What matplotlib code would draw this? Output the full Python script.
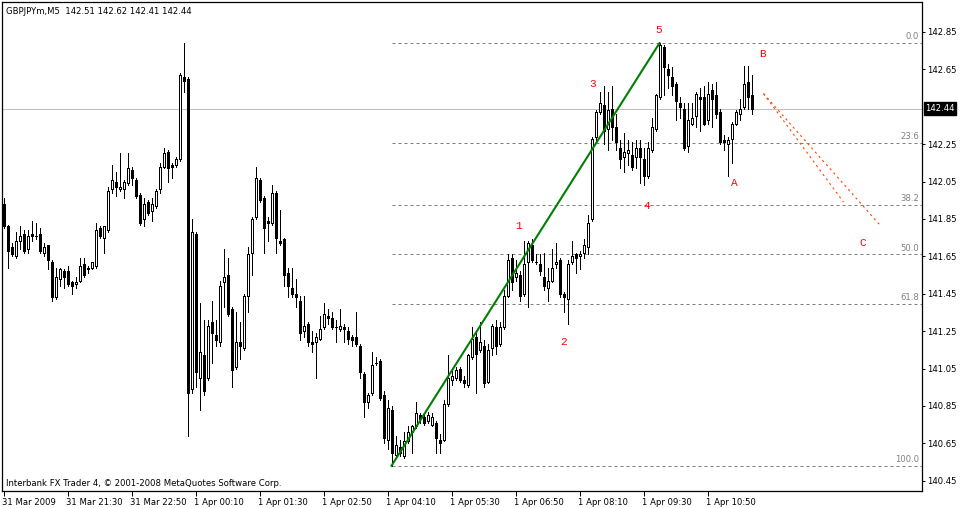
import matplotlib
matplotlib.use("Agg")
import matplotlib.pyplot as plt
import matplotlib.transforms as mtransforms

title = "GBPJPYm,M5  142.51 142.62 142.41 142.44"
footer = "Interbank FX Trader 4, \u00a9 2001-2008 MetaQuotes Software Corp."

# M5 bars, oldest first (31 Mar 20:10 .. 1 Apr 11:45)
opens = [
    141.93, 141.81, 141.70, 141.65, 141.73, 141.77, 141.69, 141.77, 141.76, 141.77,
    141.67, 141.71, 141.62, 141.43, 141.53, 141.57, 141.57, 141.51, 141.50, 141.52,
    141.61, 141.59, 141.59, 141.60, 141.80, 141.75, 141.79, 142.01, 142.05, 142.01,
    142.01, 142.04, 142.11, 142.06, 141.98, 141.85, 141.94, 141.89, 141.92, 142.01,
    142.13, 142.21, 142.14, 142.14, 142.17, 142.61, 142.60, 140.94, 141.77, 141.00,
    141.12, 141.00, 141.30, 141.23, 141.19, 141.51, 141.55, 141.37, 141.06, 141.19,
    141.16, 141.44, 141.67, 141.86, 142.06, 141.96, 141.84, 141.83, 141.99, 141.73,
    141.74, 141.56, 141.48, 141.45, 141.41, 141.25, 141.29, 141.19, 141.19, 141.21,
    141.27, 141.33, 141.32, 141.27, 141.26, 141.27, 141.25, 141.22, 141.22, 141.17,
    141.02, 140.87, 140.92, 141.08, 141.09, 140.91, 140.67, 140.83, 140.59, 140.63,
    140.58, 140.66, 140.71, 140.74, 140.80, 140.79, 140.77, 140.75, 140.76, 140.67,
    140.67, 140.86, 140.99, 141.00, 141.05, 140.99, 140.96, 141.11, 141.22, 141.15,
    141.17, 140.98, 141.16, 141.27, 141.18, 141.27, 141.44, 141.64, 141.54, 141.55,
    141.45, 141.62, 141.71, 141.62, 141.61, 141.54, 141.48, 141.52, 141.61, 141.63,
    141.45, 141.42, 141.62, 141.66, 141.65, 141.67, 141.70, 141.85, 142.29, 142.42,
    142.46, 142.33, 142.44, 142.34, 142.23, 142.18, 142.20, 142.19, 142.18, 142.23,
    142.17, 142.08, 142.22, 142.33, 142.50, 142.77, 142.65, 142.61, 142.57, 142.47,
    142.44, 142.24, 142.36, 142.40, 142.50, 142.50, 142.38, 142.54, 142.51, 142.42,
    142.27, 142.25, 142.28, 142.36, 142.41, 142.45, 142.58, 142.51,
]
highs = [
    141.96, 141.82, 141.72, 141.78, 141.81, 141.79, 141.79, 141.84, 141.83, 141.80,
    141.72, 141.71, 141.63, 141.59, 141.59, 141.58, 141.60, 141.52, 141.54, 141.64,
    141.64, 141.60, 141.62, 141.83, 141.81, 141.81, 142.02, 142.14, 142.10, 142.20,
    142.06, 142.20, 142.13, 142.07, 141.99, 141.96, 141.95, 141.96, 142.01, 142.15,
    142.23, 142.22, 142.15, 142.18, 142.63, 142.79, 142.61, 141.85, 141.78, 141.40,
    141.31, 141.31, 141.41, 141.31, 141.52, 141.69, 141.64, 141.38, 141.35, 141.30,
    141.45, 141.70, 141.86, 142.13, 142.07, 141.97, 141.86, 142.03, 142.00, 141.90,
    141.75, 141.59, 141.59, 141.53, 141.44, 141.44, 141.30, 141.25, 141.24, 141.33,
    141.40, 141.37, 141.35, 141.31, 141.37, 141.29, 141.27, 141.23, 141.35, 141.18,
    141.03, 140.92, 141.14, 141.11, 141.10, 140.93, 140.88, 140.85, 140.69, 140.67,
    140.71, 140.74, 140.75, 140.87, 140.81, 140.81, 140.82, 140.81, 140.77, 140.70,
    140.88, 141.12, 141.04, 141.06, 141.06, 141.01, 141.13, 141.27, 141.24, 141.30,
    141.20, 141.18, 141.29, 141.31, 141.30, 141.47, 141.66, 141.66, 141.63, 141.57,
    141.73, 141.73, 141.74, 141.66, 141.66, 141.67, 141.59, 141.69, 141.72, 141.64,
    141.46, 141.63, 141.73, 141.67, 141.68, 141.74, 141.87, 142.29, 142.43, 142.53,
    142.56, 142.53, 142.56, 142.41, 142.27, 142.31, 142.27, 142.26, 142.27, 142.27,
    142.23, 142.26, 142.39, 142.52, 142.79, 142.78, 142.68, 142.66, 142.58, 142.50,
    142.47, 142.47, 142.47, 142.53, 142.55, 142.56, 142.58, 142.57, 142.58, 142.44,
    142.30, 142.29, 142.37, 142.43, 142.49, 142.67, 142.67, 142.62,
]
lows = [
    141.80, 141.59, 141.65, 141.64, 141.69, 141.67, 141.67, 141.73, 141.74, 141.67,
    141.65, 141.58, 141.41, 141.42, 141.49, 141.48, 141.49, 141.45, 141.48, 141.51,
    141.54, 141.56, 141.58, 141.59, 141.75, 141.67, 141.78, 141.99, 141.97, 142.00,
    141.96, 142.03, 142.03, 141.96, 141.82, 141.81, 141.87, 141.84, 141.91, 141.99,
    142.12, 142.05, 142.07, 142.13, 142.16, 142.53, 140.69, 140.92, 140.95, 140.83,
    140.91, 140.99, 141.08, 141.17, 141.17, 141.38, 141.33, 140.95, 141.05, 141.10,
    141.15, 141.35, 141.55, 141.85, 141.94, 141.67, 141.73, 141.82, 141.67, 141.71,
    141.49, 141.43, 141.43, 141.38, 141.20, 141.22, 141.17, 141.14, 141.00, 141.20,
    141.26, 141.29, 141.26, 141.19, 141.25, 141.19, 141.18, 141.17, 141.17, 141.00,
    140.79, 140.84, 140.91, 141.07, 140.88, 140.65, 140.62, 140.53, 140.58, 140.58,
    140.57, 140.65, 140.60, 140.73, 140.76, 140.75, 140.76, 140.74, 140.60, 140.60,
    140.66, 140.85, 140.96, 140.99, 140.98, 140.95, 140.95, 141.10, 140.92, 141.14,
    140.95, 140.97, 141.12, 141.13, 141.17, 141.26, 141.43, 141.47, 141.52, 141.41,
    141.44, 141.38, 141.62, 141.61, 141.55, 141.47, 141.41, 141.51, 141.59, 141.43,
    141.35, 141.29, 141.61, 141.56, 141.58, 141.64, 141.66, 141.84, 142.27, 142.41,
    142.25, 142.22, 142.27, 142.22, 142.12, 142.10, 142.14, 142.11, 142.12, 142.04,
    142.03, 142.07, 142.21, 142.32, 142.49, 142.51, 142.55, 142.51, 142.38, 142.39,
    142.22, 142.21, 142.35, 142.34, 142.32, 142.35, 142.36, 142.34, 142.39, 142.25,
    142.22, 142.08, 142.15, 142.35, 142.38, 142.44, 142.44, 142.41,
]
closes = [
    141.81, 141.68, 141.66, 141.73, 141.76, 141.68, 141.76, 141.76, 141.76, 141.68,
    141.70, 141.63, 141.43, 141.54, 141.58, 141.54, 141.50, 141.49, 141.51, 141.60,
    141.55, 141.58, 141.62, 141.79, 141.76, 141.81, 142.00, 142.06, 142.02, 142.02,
    142.05, 142.12, 142.07, 141.97, 141.83, 141.93, 141.88, 141.93, 142.00, 142.13,
    142.20, 142.12, 142.13, 142.17, 142.62, 142.59, 140.92, 141.78, 141.03, 141.14,
    140.93, 141.28, 141.24, 141.20, 141.49, 141.54, 141.34, 141.04, 141.19, 141.17,
    141.44, 141.66, 141.85, 142.07, 141.95, 141.80, 141.83, 141.99, 141.75, 141.72,
    141.55, 141.49, 141.45, 141.43, 141.24, 141.28, 141.19, 141.18, 141.22, 141.26,
    141.34, 141.32, 141.27, 141.27, 141.28, 141.26, 141.21, 141.20, 141.18, 141.03,
    140.87, 140.91, 141.07, 141.08, 140.89, 140.68, 140.84, 140.60, 140.64, 140.60,
    140.66, 140.71, 140.74, 140.81, 140.78, 140.76, 140.80, 140.79, 140.68, 140.65,
    140.86, 141.00, 141.01, 141.04, 140.99, 140.97, 141.12, 141.21, 141.13, 141.19,
    140.97, 141.15, 141.28, 141.17, 141.27, 141.44, 141.63, 141.51, 141.56, 141.44,
    141.61, 141.72, 141.63, 141.62, 141.57, 141.49, 141.52, 141.59, 141.62, 141.45,
    141.43, 141.61, 141.65, 141.64, 141.66, 141.71, 141.83, 142.28, 142.42, 142.47,
    142.32, 142.43, 142.34, 142.26, 142.17, 142.21, 142.22, 142.13, 142.23, 142.18,
    142.08, 142.23, 142.34, 142.51, 142.78, 142.66, 142.62, 142.56, 142.48, 142.45,
    142.23, 142.38, 142.39, 142.52, 142.49, 142.36, 142.52, 142.49, 142.41, 142.26,
    142.26, 142.27, 142.36, 142.42, 142.44, 142.57, 142.50, 142.44,
]

time_labels = ["31 Mar 2009", "31 Mar 21:30", "31 Mar 22:50", "1 Apr 00:10",
               "1 Apr 01:30", "1 Apr 02:50", "1 Apr 04:10", "1 Apr 05:30",
               "1 Apr 06:50", "1 Apr 08:10", "1 Apr 09:30", "1 Apr 10:50"]
bars_per_label = 16

price_ticks = [140.45, 140.65, 140.85, 141.05, 141.25, 141.45, 141.65,
               141.85, 142.05, 142.25, 142.65, 142.85]
last_price = 142.44

# fibonacci retracement, anchored low bar -> high bar
fib_low_bar, fib_high_bar = 97, 164
fib_ratios = [0.0, 23.6, 38.2, 50.0, 61.8, 100.0]

# elliott wave marks: (text, bar, price)
wave_labels = [("1", 128.7, 141.81), ("2", 139.9, 141.19), ("3", 147.2, 142.57),
               ("4", 160.9, 141.92), ("5", 163.7, 142.86), ("A", 182.7, 142.04),
               ("B", 189.7, 142.73), ("C", 214.7, 141.72)]
# projected channel lines from B: (bar0, price0, bar1, price1)
proj_lines = [(190, 142.52, 210, 141.94), (190, 142.52, 219, 141.82)]

plt.rcParams['font.family'] = ['DejaVu Sans']
fs = 6.1

fig = plt.figure(figsize=(9.6, 5.08), dpi=100)
ax = fig.add_axes([2 / 960, 17 / 508, 920 / 960, 489 / 508])
# 4 px per bar, bar centres on pixel centres
xmin = -0.375
xmax = xmin + 920 / 4
ax.set_xlim(xmin, xmax)
ax.set_ylim(140.395, 143.010)

n = len(opens)
xs = list(range(n))

ax.axhline(last_price, color='#c0c0c0', lw=0.72, zorder=1)

# wicks
ax.vlines(xs, lows, highs, colors='black', lw=0.72, zorder=2, antialiased=False)
# bodies
bottoms = [min(o, c) for o, c in zip(opens, closes)]
heights = [abs(c - o) for o, c in zip(opens, closes)]
faces = ['white' if c > o else 'black' for o, c in zip(opens, closes)]
ax.bar(xs, heights, bottom=bottoms, width=0.5, color=faces, edgecolor='black',
       linewidth=0.72, zorder=3, antialiased=False)

# fibonacci levels
hi = highs[fib_high_bar]
lo = lows[fib_low_bar]
for r in fib_ratios:
    lvl = hi - (hi - lo) * r / 100
    ax.plot([fib_low_bar, xmax], [lvl, lvl], color='#808080', lw=0.72,
            ls=(0, (3, 3)), zorder=1)
    ax.text(228.9, lvl + 0.01, "%.1f" % r, ha='right', va='bottom',
            color='#808080', fontsize=fs)

# trend line
ax.plot([fib_low_bar, fib_high_bar], [lo, hi], color='#008000', lw=1.5, zorder=4)

for x0, y0, x1, y1 in proj_lines:
    ax.plot([x0, x1], [y0, y1], color='#ff4500', lw=0.8, ls=(0, (2, 3)), zorder=4)

for t, x, y in wave_labels:
    ax.text(x, y, t, color='red', fontsize=8, family='Liberation Mono',
            ha='center', va='center', zorder=5)

# axes styling
for s in ax.spines.values():
    s.set_linewidth(0.9)
    s.set_color('black')

ax.yaxis.tick_right()
ax.set_yticks(price_ticks)
ax.set_yticklabels(["%.2f" % p for p in price_ticks], fontsize=fs)
ax.tick_params(axis='y', direction='out', length=2.5, width=0.72, pad=1.5)

ax.set_xticks([i * bars_per_label for i in range(len(time_labels))])
ax.set_xticklabels(time_labels, fontsize=fs, ha='left')
ax.tick_params(axis='x', direction='out', length=3.6, width=0.72, pad=1.2)
offset = mtransforms.ScaledTranslation(-1.5 / 100, 0, fig.dpi_scale_trans)
for lab in ax.get_xticklabels():
    lab.set_transform(lab.get_transform() + offset)

trans = mtransforms.blended_transform_factory(ax.transAxes, ax.transData)
ax.text(1.0035, last_price, "%.2f" % last_price, transform=trans, ha='left',
        va='center', color='white', fontsize=fs, clip_on=False,
        bbox=dict(facecolor='black', edgecolor='black', pad=1.2))

fig.text(6 / 960, 1 - 11 / 508, title, ha='left', va='center', fontsize=fs)
fig.text(6 / 960, 1 - 483 / 508, footer, ha='left', va='center', fontsize=fs)

fig.savefig("out.png", dpi=100, facecolor='white')
